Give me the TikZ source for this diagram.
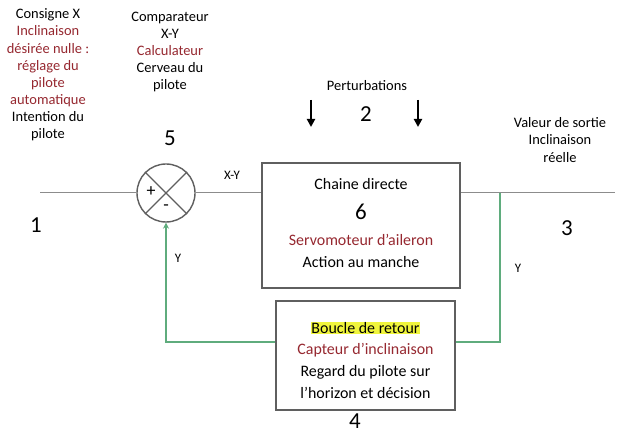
\documentclass[tikz,border=0pt]{standalone}
\usepackage{fontspec}
\setmainfont{Carlito}
\usetikzlibrary{arrows.meta}
\definecolor{dred}{RGB}{150,40,48}
\definecolor{fgreen}{RGB}{95,172,125}
\definecolor{boxgray}{RGB}{95,95,95}
\definecolor{linegray}{RGB}{140,140,140}
\definecolor{hl}{RGB}{240,245,60}
\tikzset{
  lbl/.style={align=center, inner sep=0pt, font=\fontsize{14.5}{17.2}\selectfont},
  boxtxt/.style={align=center, inner sep=0pt, font=\fontsize{16}{21.7}\selectfont},
  digit/.style={inner sep=0pt, font=\fontsize{23}{23}\selectfont},
  small/.style={inner sep=0pt, font=\fontsize{13}{13}\selectfont},
  blk/.style={draw=boxgray, line width=1.4bp, rectangle},
  sig/.style={draw=linegray, line width=1bp},
  fbk/.style={draw=fgreen, line width=1.8bp},
  pert/.style={line width=2bp, -{Triangle[length=8bp,width=8bp]}},
}
\begin{document}
\begin{tikzpicture}[x=1bp,y=-1bp]
\useasboundingbox[fill=white] (0,0) rectangle (627,434);

% blocks
\node[blk, minimum width=198bp, minimum height=125bp] (fwd) at (361,225.5) {};
\node[blk, minimum width=179bp, minimum height=109bp] (fb) at (365.5,355.5) {};
\node[draw=boxgray, line width=1.4bp, circle, minimum size=58bp, inner sep=0pt] (cmp) at (166,193) {};
\draw[boxgray, line width=1.2bp] (cmp.north west) -- (cmp.south east);
\draw[boxgray, line width=1.2bp] (cmp.north east) -- (cmp.south west);
\node[inner sep=0pt, font=\fontsize{18}{18}\selectfont] (plus) at (151,192) {+};
\node[inner sep=0pt, font=\fontsize{18}{18}\selectfont] (minus) at (166,208) {-};

% texts in blocks
\node[boxtxt] (t1) at (361,184) {Chaine directe};
\node[digit] (six) at (361,212) {6};
\node[boxtxt, text=dred] (t2) at (361,240) {Servomoteur d'aileron};
\node[boxtxt] (t3) at (361,262) {Action au manche};
\node[boxtxt] (fbtxt) at (365.5,360) {{\setlength\fboxsep{0.5pt}\colorbox{hl}{Boucle de retour}}\\\textcolor{dred}{Capteur d'inclinaison}\\Regard du pilote sur\\l'horizon et décision};

% coordinates
\coordinate (in) at (40,193);
\coordinate (out) at (615,193);
\coordinate (br) at (500,193);
\coordinate (c1) at (500,342);
\coordinate (c2) at (166,342);

% signal lines
\draw[sig] (in) -- (cmp.west);
\draw[sig] (cmp.east) -- (fwd.west |- cmp.east);
\draw[sig] (fwd.east |- out) -- (out);
\draw[fbk] (br) -- (c1) -- (fb.east |- c1);
\draw[fbk, -{Stealth[length=6bp,width=6bp]}] (fb.west |- c2) -- (c2) -- (cmp.south);

% labels
\node[lbl] (consigne) at (48,75) {Consigne X\\\textcolor{dred}{Inclinaison}\\\textcolor{dred}{désirée nulle :}\\\textcolor{dred}{réglage du}\\\textcolor{dred}{pilote}\\\textcolor{dred}{automatique}\\Intention du\\pilote};
\node[lbl] (comp) at (170,52) {Comparateur\\X-Y\\\textcolor{dred}{Calculateur}\\Cerveau du\\pilote};
\node[digit] (five) at (170,138) {5};
\node[digit] (one) at (36,225) {1};
\node[digit] (three) at (567,228) {3};
\node[digit] (two) at (366,114) {2};
\node[digit] (four) at (355,421) {4};
\node[lbl] (pertl) at (367,86) {Perturbations};
\node[lbl] (valeur) at (560,140) {Valeur de sortie\\Inclinaison\\réelle};
\node[small] (xy) at (232,175) {X-Y};
\node[small] (y1) at (178,258) {Y};
\node[small] (y2) at (518,268) {Y};

% perturbation arrows
\coordinate (p1a) at (311,100);
\coordinate (p1b) at (311,127);
\coordinate (p2a) at (418,100);
\coordinate (p2b) at (418,127);
\draw[pert] (p1a) -- (p1b);
\draw[pert] (p2a) -- (p2b);
\end{tikzpicture}
\end{document}
